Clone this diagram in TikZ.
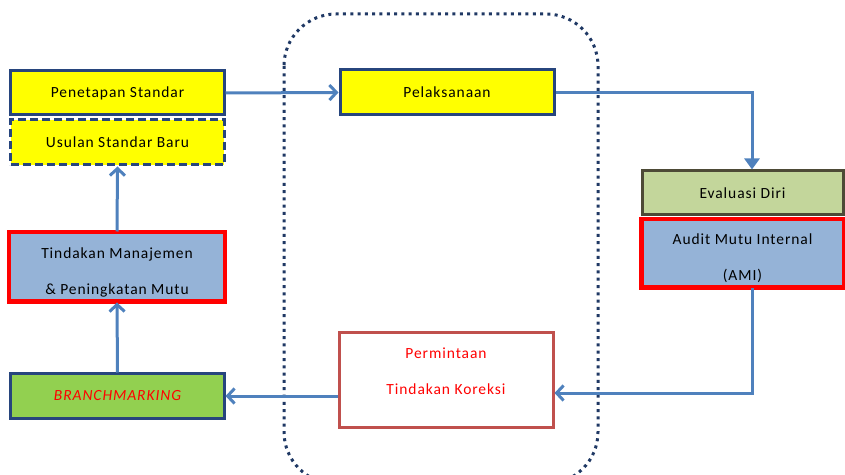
\documentclass[tikz,border=0pt]{standalone}
\usepackage{fontspec}
\setmainfont{Carlito}[LetterSpace=6]
\usetikzlibrary{arrows.meta}
\definecolor{dblue}{HTML}{27457D}
\definecolor{arrowc}{HTML}{4F81BD}
\definecolor{yel}{HTML}{FFFF00}
\definecolor{lblue}{HTML}{95B3D7}
\definecolor{lgreen}{HTML}{92D050}
\definecolor{olive}{HTML}{C3D69B}
\definecolor{oliveb}{HTML}{4D4A36}
\definecolor{pred}{HTML}{C0504D}
\definecolor{navy}{HTML}{1F3864}
\tikzset{
  box/.style={rectangle, line width=3bp, inner sep=0pt, font=\fontsize{15.5bp}{36bp}\selectfont},
  ybox/.style={box, draw=dblue, fill=yel},
  conn/.style={draw=arrowc, line width=3bp, -{Straight Barb[length=7bp,width=15bp,line width=3bp]}},
  fconn/.style={draw=arrowc, line width=3bp, -{Triangle[length=11bp,width=15bp]}},
  txt/.style={align=center, inner sep=0pt, font=\fontsize{15.5bp}{36bp}\selectfont},
}
\begin{document}
\begin{tikzpicture}[x=1bp,y=-1bp]
\useasboundingbox (0,0) rectangle (845,475);
% dotted frame
\draw[navy, line width=3bp, dash pattern=on 3bp off 4.3bp, rounded corners=52bp] (284,14) rectangle (598,484);
% boxes
\node[ybox, minimum width=213bp, minimum height=44bp] (pen) at (117.5,93) {Penetapan Standar};
\node[ybox, dashed, dash pattern=on 8bp off 4bp, minimum width=213bp, minimum height=45bp] (usu) at (117.5,142.5) {Usulan Standar Baru};
\node[box, draw=red, fill=lblue, minimum width=214bp, minimum height=68bp] (tin) at (117,267) {};
\node[box, draw=dblue, fill=lgreen, minimum width=213bp, minimum height=44bp, text=red, font=\fontsize{15.5bp}{18bp}\selectfont\itshape] (bra) at (117.5,396) {BRANCHMARKING};
\node[ybox, minimum width=214bp, minimum height=45bp] (pel) at (447,92.5) {Pelaksanaan};
\node[box, draw=oliveb, fill=olive, minimum width=201bp, minimum height=44bp] (eva) at (742.5,193) {Evaluasi Diri};
\node[box, draw=red, fill=lblue, minimum width=201bp, minimum height=67bp] (aud) at (742.5,253.5) {};
\node[box, draw=pred, fill=white, minimum width=214bp, minimum height=94bp] (per) at (446,380) {};
% texts
\node[txt] (tint) at (117,272) {Tindakan Manajemen\\\& Peningkatan Mutu};
\node[txt] (audt) at (742.5,258) {Audit Mutu Internal\\(AMI)};
\node[txt, text=red] (pert) at (446,371) {Permintaan\\Tindakan Koreksi};
% redraw borders over clipped text
\draw[red, line width=3bp] (tin.north west) rectangle (tin.south east);
\draw[red, line width=3bp] (aud.north west) rectangle (aud.south east);
% connectors
\draw[conn] (pen.east) -- (pel.west);
\draw[fconn] (pel.east) -| ([xshift=9.5bp]eva.north);
\draw[conn] ([xshift=9.5bp]aud.south) |- ([yshift=-13bp]per.east);
\draw[conn] (per.west |- bra.east) -- (bra.east);
\draw[conn] (bra.north) -- (tin.south);
\draw[conn] (tin.north) -- (usu.south);
\end{tikzpicture}
\end{document}
